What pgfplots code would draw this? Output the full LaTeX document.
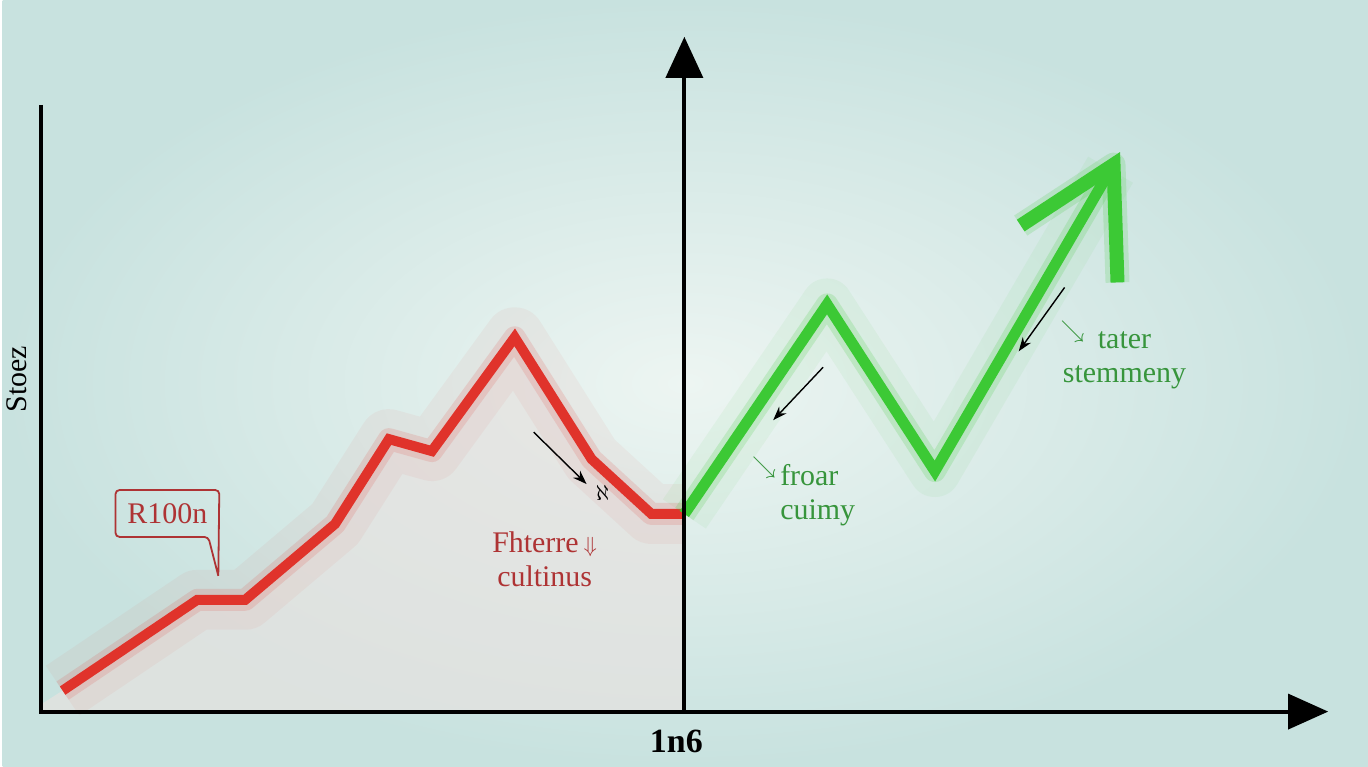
\documentclass[border=0pt]{standalone}
\usepackage{pgfplots}
\pgfplotsset{compat=1.18}
\usepackage{fontspec}
\setmainfont{Liberation Serif}
\usetikzlibrary{arrows.meta}
\definecolor{bgout}{HTML}{C8E2DF}
\definecolor{bgin}{HTML}{EDF5F2}
\definecolor{redl}{HTML}{E0332B}
\definecolor{greenl}{HTML}{3CC935}
\definecolor{redtxt}{HTML}{AE3334}
\definecolor{greentxt}{HTML}{37953C}
\definecolor{haze}{HTML}{E6E2E0}
\begin{document}
\begin{tikzpicture}
\begin{axis}[width=684pt,height=384pt,scale only axis,
  xmin=0,xmax=1368,ymin=0,ymax=768,axis lines=none,ticks=none,clip=false]
\shade[inner color=bgin, outer color=bgout] (axis cs:0,0) rectangle (axis cs:1368,768);
% haze under red line
\addplot[draw=none, fill=haze, fill opacity=0.7] coordinates {
 (38,55) (38,62) (60,76) (195,167) (243,167) (333,243) (387,328) (430,316)
 (513,430) (590,308) (650,253) (683,253) (683,55)} -- cycle;
% red series
\addplot[redl, line width=30pt, opacity=0.05, line join=round] coordinates {
 (60,76) (195,167) (243,167) (333,243) (387,328) (430,316) (513,430) (590,308) (650,253) (683,253)};
\addplot[redl, line width=11pt, opacity=0.14, line join=round] coordinates {
 (60,76) (195,167) (243,167) (333,243) (387,328) (430,316) (513,430) (590,308) (650,253) (683,253)};
\addplot[redl, line width=5pt, line join=miter] coordinates {
 (60,76) (195,167) (243,167) (333,243) (387,328) (430,316) (513,430) (590,308) (650,253) (683,253)};
% green series
\addplot[greenl, line width=26pt, opacity=0.06, line join=round] coordinates {
 (683,253) (826,463) (934,296) (1110,598)};
\addplot[greenl, line width=11pt, opacity=0.18, line join=round] coordinates {
 (683,253) (826,463) (934,296) (1110,598)};
\addplot[greenl, line width=5.5pt, line join=miter] coordinates {
 (683,253) (826,463) (934,296) (1110,598)};
\addplot[greenl, line width=12pt, opacity=0.18, line join=round] coordinates {
 (1020,542) (1113,603) (1117,485)};
\addplot[greenl, line width=7pt, line join=miter] coordinates {
 (1020,542) (1113,603) (1117,485)};
% axes
\draw[black, line width=2pt] (axis cs:38,663) -- (axis cs:38,55) -- (axis cs:1292,55);
\fill[black] (axis cs:1328,55) -- (axis cs:1288,73) -- (axis cs:1288,37) -- cycle;
\draw[black, line width=2pt] (axis cs:683,55) -- (axis cs:683,694);
\fill[black] (axis cs:683,731) -- (axis cs:664,690) -- (axis cs:702,690) -- cycle;
\node[font=\fontsize{17}{18}\selectfont\bfseries] at (axis cs:675,25) {1n6};
\node[rotate=90, font=\fontsize{15}{16}\selectfont] at (axis cs:14,388) {Stoez};
% annotations
\draw[redtxt, line width=0.9pt, rounded corners=2pt] (axis cs:216,191) -- (axis cs:217,277) -- (axis cs:113,277) -- (axis cs:113,230) -- (axis cs:206,230) -- (axis cs:216,191);
\node[redtxt, font=\fontsize{15}{16}\selectfont] at (axis cs:165,253) {R100n};
\node[redtxt, font=\fontsize{15}{17}\selectfont, align=center] at (axis cs:543,208) {Fhterre\,{\fontsize{11}{11}\selectfont$\Downarrow$}\\cultinus};
\draw[black, line width=0.7pt, -{Stealth[length=7pt,width=5pt]}] (axis cs:532,335) -- (axis cs:585,283);
\node[black, font=\fontsize{11}{11}\selectfont] at (axis cs:601,274) {$\aleph$};
\node[greentxt, font=\fontsize{15}{17}\selectfont, align=left, anchor=west] at (axis cs:772,272) {froar\\cuimy};
\node[greentxt, font=\fontsize{12}{12}\selectfont] at (axis cs:763,300) {$\searrow$};
\draw[black, line width=0.7pt, -{Stealth[length=7pt,width=5pt]}] (axis cs:822,400) -- (axis cs:772,347);
\node[greentxt, font=\fontsize{15}{17}\selectfont, align=center] at (axis cs:1124,407) {tater\\stemmeny};
\node[greentxt, font=\fontsize{12}{12}\selectfont] at (axis cs:1072,436) {$\searrow$};
\draw[black, line width=0.7pt, -{Stealth[length=7pt,width=5pt]}] (axis cs:1064,480) -- (axis cs:1018,416);
\end{axis}
\end{tikzpicture}
\end{document}
